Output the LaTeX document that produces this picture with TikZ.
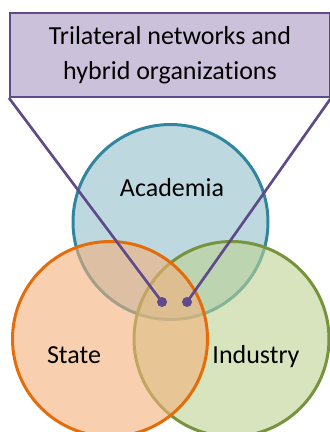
\documentclass[tikz,border=0pt]{standalone}
\usepackage{fontspec}
\setmainfont{Carlito}[Ligatures=NoCommon]
\usetikzlibrary{positioning}
\definecolor{calloutline}{HTML}{5F4B8B}
\definecolor{calloutfill}{HTML}{CCC1DA}
\definecolor{acadline}{HTML}{31859C}
\definecolor{acadfill}{RGB}{147,190,203}
\definecolor{stateline}{HTML}{E46C0A}
\definecolor{statefill}{RGB}{243,177,123}
\definecolor{indline}{HTML}{77933C}
\definecolor{indfill}{RGB}{188,210,147}

\begin{document}
\begin{tikzpicture}[
        x=0.75pt, y=-0.75pt,
        sphere/.style = {circle, draw, minimum size=146.25pt, inner sep=0pt, line width=2.25pt, fill opacity=0.6},
        label/.style = {font=\fontsize{19.5}{26}\selectfont, anchor=base},
        callout/.style = {draw=calloutline, fill=calloutfill, line width=1.5pt, minimum width=240pt, minimum height=63pt, align=center, inner sep=0pt, font=\fontsize{19.5}{26}\selectfont},
        pin/.style = {circle, fill=calloutline, inner sep=0pt, minimum size=7.5pt},
        link/.style = {draw=calloutline, line width=2pt}
    ]
        \useasboundingbox (0,0) rectangle (329,432);

        % Three spheres
        \node (academia) [sphere, draw=acadline, fill=acadfill] at (170.5,222) {};
        \node (industry) [sphere, draw=indline, fill=indfill] at (231.5,339) {};
        \node (state) [sphere, draw=stateline, fill=statefill] at (110,339) {};

        \node (acadText) [label] at (172,196) {Academia};
        \node (stateText) [label] at (74,363) {State};
        \node (indText) [label] at (256,363) {Industry};

        % Callout on top
        \node (hybrid) [callout] at (170,55) {Trilateral networks and\\hybrid organizations};

        \node (pinLeft) [pin] at (162,302) {};
        \node (pinRight) [pin] at (187,302) {};

        % Callout lines
        \draw [link] (hybrid.south west) -- (pinLeft.center);
        \draw [link] (hybrid.south east) -- (pinRight.center);

    \end{tikzpicture}
\end{document}
